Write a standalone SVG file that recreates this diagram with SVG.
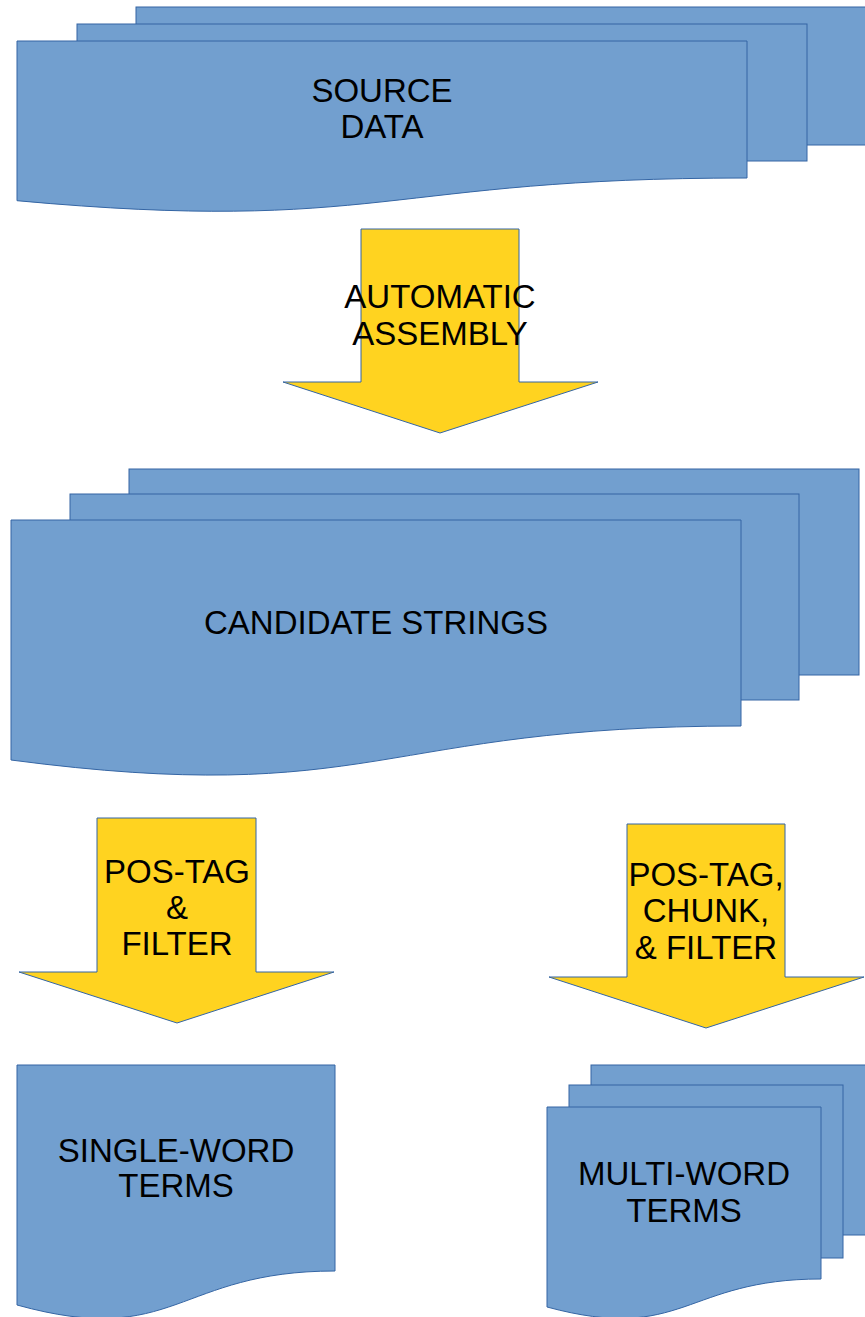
<svg xmlns="http://www.w3.org/2000/svg" width="865" height="1317" viewBox="0 0 865 1317">
<style>
.doc{fill:#729fcf;stroke:#3465a4;stroke-width:1}
.arr{fill:#ffd320;stroke:#3465a4;stroke-width:1}
text{font-family:"Liberation Sans",Arial,sans-serif;font-size:33px;fill:#000;text-anchor:middle}
</style>
<rect width="865" height="1317" fill="#ffffff"/>
<g id="source-data">
<rect class="doc" x="136" y="7" width="730" height="138"/>
<rect class="doc" x="77" y="24" width="730" height="137"/>
<path class="doc" d="M17 41 H747 V178 C382 178 382 234 17 200.7 Z"/>
<text x="382" y="102">SOURCE</text>
<text x="382" y="138">DATA</text>
</g>
<g id="connectors">
<g id="arrow-assembly">
<path class="arr" d="M361 229 H519 V382 H598 L440 433 L283 382 H361 Z"/>
<text x="440" y="308">AUTOMATIC</text>
<text x="440" y="345">ASSEMBLY</text>
</g>
<g id="arrow-single">
<path class="arr" d="M97 818 H256 V972 H334 L177 1023 L19 972 H97 Z"/>
<text x="177" y="883">POS-TAG</text>
<text x="177" y="919">&amp;</text>
<text x="177" y="955">FILTER</text>
</g>
<g id="arrow-multi">
<path class="arr" d="M627 824 H785 V977 H864 L706 1028 L549 977 H627 Z"/>
<text x="706" y="886">POS-TAG,</text>
<text x="706" y="922">CHUNK,</text>
<text x="706" y="959">&amp; FILTER</text>
</g>
</g>
<g id="candidate-strings">
<rect class="doc" x="129" y="469" width="730" height="206"/>
<rect class="doc" x="70" y="494" width="729" height="206"/>
<path class="doc" d="M11 520 H741 V726 C376 726 376 808 11 760 Z"/>
<text x="376" y="634">CANDIDATE STRINGS</text>
</g>
<g id="single-word-terms">
<path class="doc" d="M17 1065 H335 V1271 C176 1271 176 1349 17 1305 Z"/>
<text x="176" y="1162">SINGLE-WORD</text>
<text x="176" y="1197">TERMS</text>
</g>
<g id="multi-word-terms">
<rect class="doc" x="591" y="1065" width="275" height="170"/>
<rect class="doc" x="569" y="1085" width="274" height="173"/>
<path class="doc" d="M547 1107 H821 V1279 C684 1279 684 1344 547 1307 Z"/>
<text x="684" y="1185">MULTI-WORD</text>
<text x="684" y="1222">TERMS</text>
</g>
</svg>
